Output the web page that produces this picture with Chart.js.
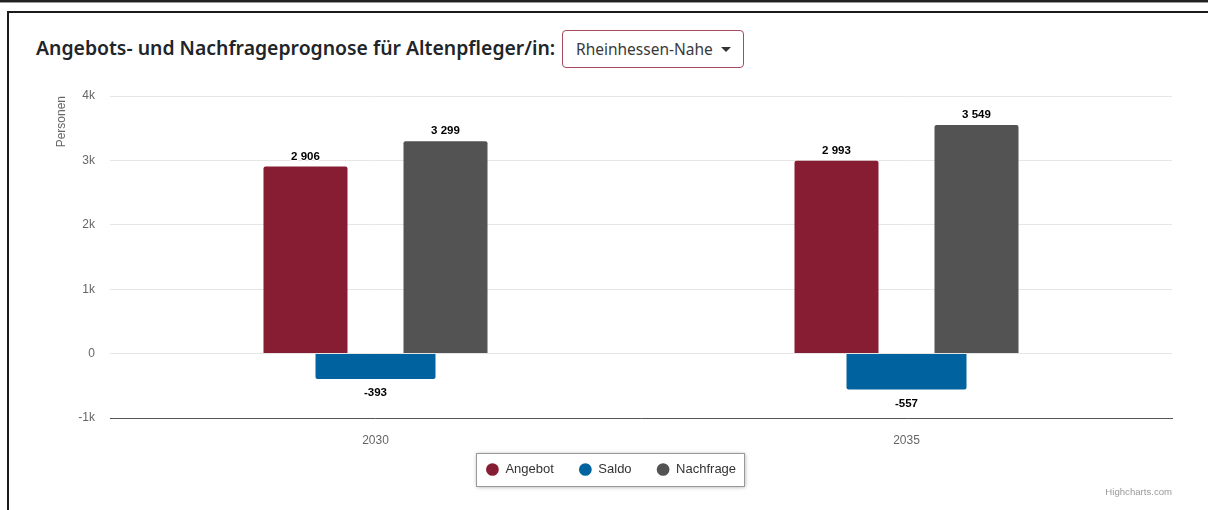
<!DOCTYPE html>
<html>
<head>
<meta charset="utf-8">
<script src="https://cdn.jsdelivr.net/npm/chart.js@4/dist/chart.umd.min.js"></script>
<style>
  html, body { margin: 0; padding: 0; background: #fff; width: 1208px; height: 510px; overflow: hidden; }
  #topline { position: absolute; left: 0; top: 0; width: 1208px; height: 0; border-top: 2px solid #222; box-shadow: 0 1px 0 #999; }
  #frame { position: absolute; left: 7px; top: 11px; width: 1230px; height: 540px; border: 2px solid #1b1b1b; pointer-events: none; z-index: 2; }
  #title { position: absolute; left: 36px; top: 34px; font-family: "Noto Sans", sans-serif; font-weight: 600; font-size: 19.4px; color: #212529; white-space: nowrap; }
  #select { position: absolute; left: 562px; top: 30px; width: 182px; height: 38px; box-sizing: border-box; border: 1px solid #a44a61; border-radius: 4px; font-family: "Noto Sans", sans-serif; font-size: 15.5px; color: #3a3a3a; line-height: 36px; padding-left: 13px; white-space: nowrap; }
  #select .caret { position: absolute; left: 158px; top: 16px; width: 0; height: 0; border-left: 5px solid transparent; border-right: 5px solid transparent; border-top: 5px solid #333; }
  #wrap { position: absolute; left: 0; top: 80px; width: 1208px; height: 430px; }
</style>
</head>
<body>
<div id="topline"></div>
<div id="frame"></div>
<div id="title">Angebots- und Nachfrageprognose für Altenpfleger/in:</div>
<div id="select">Rheinhessen-Nahe<span class="caret"></span></div>
<div id="wrap"><canvas id="myChart" width="1208" height="430"></canvas></div>
<script>
const years = ["2030", "2035"];
const angebot = [2906, 2993];
const saldo = [-393, -557];
const nachfrage = [3299, 3549];
const yTicks = [-1000, 0, 1000, 2000, 3000, 4000];
const yTickLabels = ["-1k", "0", "1k", "2k", "3k", "4k"];

const fmt = (v) => String(v).replace(/\B(?=(\d{3})+(?!\d))/g, " ");

// value labels above / below the bars
const valueLabels = {
  id: "valueLabels",
  afterDatasetsDraw(chart) {
    const ctx = chart.ctx;
    ctx.save();
    ctx.font = "bold 11.5px 'Liberation Sans', Arial, sans-serif";
    ctx.textAlign = "center";
    ctx.textBaseline = "middle";
    ctx.lineJoin = "round";
    chart.data.datasets.forEach((ds, i) => {
      const meta = chart.getDatasetMeta(i);
      meta.data.forEach((bar, j) => {
        const v = ds.data[j];
        const y = v >= 0 ? bar.y - 10 : bar.y + 14;
        const txt = fmt(v);
        ctx.lineWidth = 2;
        ctx.strokeStyle = "#ffffff";
        ctx.strokeText(txt, bar.x, y);
        ctx.fillStyle = "#000000";
        ctx.fillText(txt, bar.x, y);
      });
    });
    ctx.restore();
  },
};

// box with shadow around legend, credits text, room for x labels
const legendBox = {
  id: "legendBox",
  afterLayout(chart) {
    const x = chart.scales.x;
    x.bottom = x.top + 32;
  },
  beforeDraw(chart) {
    const lg = chart.legend;
    if (!lg || !lg.legendHitBoxes.length) return;
    const hb = lg.legendHitBoxes;
    const ctx = chart.ctx;
    const x0 = Math.round(hb[0].left - 9.5);
    const x1 = Math.round(hb[hb.length - 1].left + hb[hb.length - 1].width + 8);
    const y0 = Math.round(hb[0].top + hb[0].height / 2 - 16.5);
    ctx.save();
    ctx.shadowColor = "rgba(0,0,0,0.35)";
    ctx.shadowBlur = 4;
    ctx.shadowOffsetX = 1;
    ctx.shadowOffsetY = 1;
    ctx.fillStyle = "#ffffff";
    ctx.fillRect(x0, y0, x1 - x0, 33);
    ctx.restore();
    ctx.save();
    ctx.strokeStyle = "#999999";
    ctx.lineWidth = 1;
    ctx.strokeRect(x0 + 0.5, y0 + 0.5, x1 - x0, 33);
    ctx.restore();
  },
  afterDraw(chart) {
    const ctx = chart.ctx;
    ctx.save();
    ctx.font = "9.6px 'Liberation Sans', Arial, sans-serif";
    ctx.fillStyle = "#999999";
    ctx.textAlign = "right";
    ctx.textBaseline = "middle";
    ctx.fillText("Highcharts.com", chart.chartArea.right, 412);
    ctx.restore();
  },
};

const slot = 0.3955;

new Chart("myChart", {
  type: "bar",
  data: {
    labels: years,
    datasets: [
      { label: "Angebot", data: angebot, backgroundColor: "#861d32", barPercentage: 1.2, categoryPercentage: slot, borderRadius: 2 },
      { label: "Saldo", data: saldo, backgroundColor: "#00629f", barPercentage: 1.714, categoryPercentage: slot, borderRadius: 2 },
      { label: "Nachfrage", data: nachfrage, backgroundColor: "#535353", barPercentage: 1.2, categoryPercentage: slot, borderRadius: 2 },
    ],
  },
  options: {
    responsive: false,
    animation: false,
    layout: { padding: { left: 50, right: 36, top: 16, bottom: 24 } },
    plugins: {
      tooltip: { enabled: false },
      legend: {
        position: "bottom",
        labels: {
          usePointStyle: true,
          pointStyle: "circle",
          boxWidth: 13,
          boxHeight: 9,
          padding: 25,
          color: "#333333",
          font: { family: "'Liberation Sans', Arial, sans-serif", size: 13 },
        },
      },
    },
    scales: {
      x: {
        grid: { display: false, drawTicks: false },
        border: { display: true, color: "#555555", width: 1 },
        ticks: { color: "#666666", padding: 15, font: { family: "'Liberation Sans', Arial, sans-serif", size: 12 } },
        afterFit(scale) { scale.height = 20; },
      },
      y: {
        min: yTicks[0],
        max: yTicks[yTicks.length - 1],
        border: { display: false },
        grid: { color: "#e6e6e6", drawTicks: true, tickLength: 15, tickColor: "rgba(0,0,0,0)" },
        afterBuildTicks(scale) { scale.ticks = yTicks.map((v) => ({ value: v })); },
        ticks: {
          color: "#666666",
          padding: 0,
          font: { family: "'Liberation Sans', Arial, sans-serif", size: 12 },
          callback: (v) => yTickLabels[yTicks.indexOf(v)],
        },
        title: {
          display: true,
          text: "Personen",
          align: "end",
          color: "#666666",
          font: { family: "'Liberation Sans', Arial, sans-serif", size: 12 },
        },
        afterFit(scale) { scale.width = 60; },
      },
    },
  },
  plugins: [valueLabels, legendBox],
});
</script>
</body>
</html>
